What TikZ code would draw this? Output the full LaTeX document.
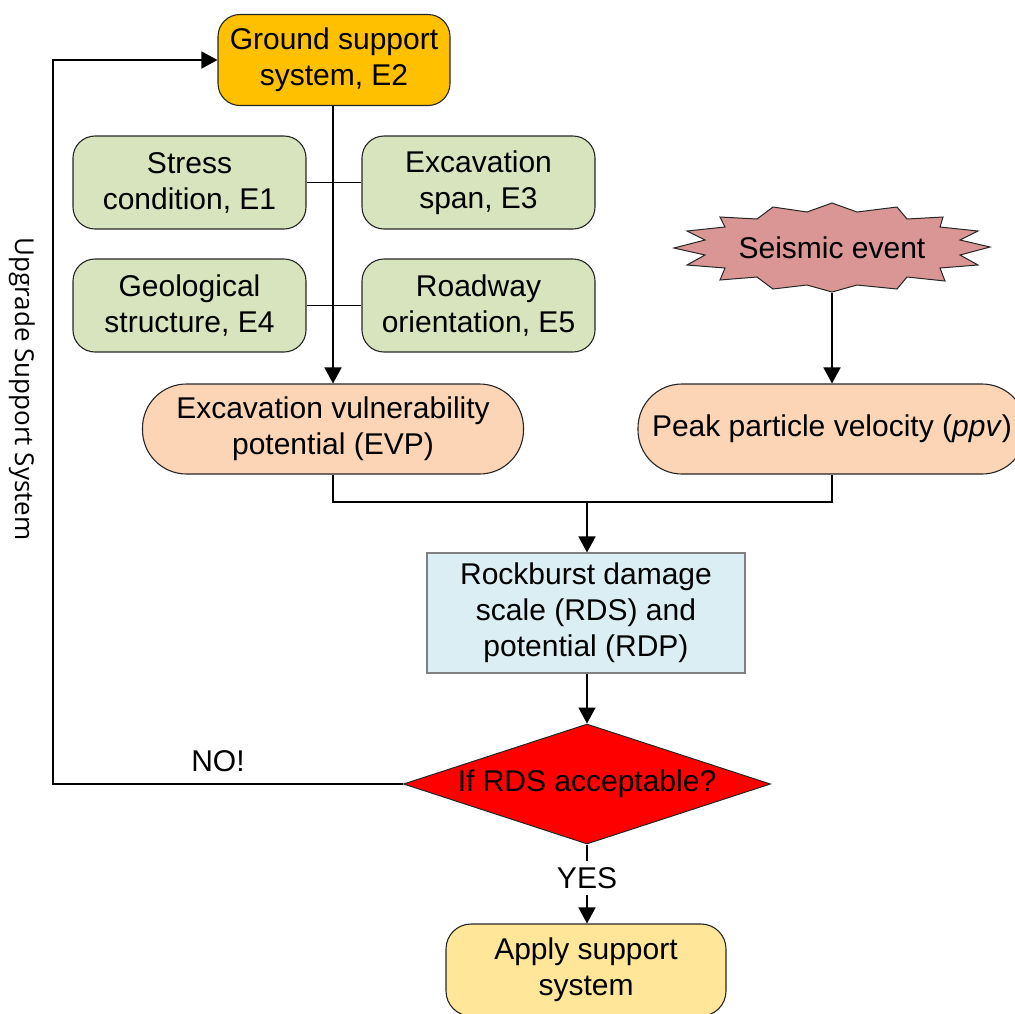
\documentclass[tikz,border=0pt]{standalone}
\usepackage{fontspec}
\setmainfont{Liberation Sans}
\newfontfamily\sidefont{Open Sans}
\usetikzlibrary{arrows.meta,shapes.geometric}
\definecolor{gsorange}{HTML}{FFC000}
\definecolor{egreen}{HTML}{D7E4BD}
\definecolor{peach}{HTML}{FBD5B5}
\definecolor{seisred}{HTML}{D99694}
\definecolor{rdsblue}{HTML}{DAEEF3}
\definecolor{applyy}{HTML}{FFE699}
\begin{document}
\begin{tikzpicture}[x=1pt,y=-1pt,
  every node/.style={font=\fontsize{30}{36}\selectfont, align=center},
  box/.style={draw=black!85, line width=1.1pt, rounded corners=22pt, inner sep=0pt},
  gbox/.style={box, fill=egreen, minimum width=233pt, minimum height=93pt},
  pill/.style={box, fill=peach, rounded corners=44pt, minimum height=90pt},
  conn/.style={line width=1.6pt, draw=black},
  arr/.style={conn, -{Triangle[length=16pt,width=17pt]}}]
\useasboundingbox (0,0) rectangle (1015,1013);
\clip (0,0) rectangle (1015,1013);
% nodes
\node[box, fill=gsorange, minimum width=232pt, minimum height=91pt] (gs) at (334,60) {Ground support\\system, E2};
\node[gbox] (e1) at (189.5,182.5) {Stress\\condition, E1};
\node[gbox] (e3) at (478.5,182.5) {Excavation\\span, E3};
\node[gbox] (e4) at (189.5,305.5) {Geological\\structure, E4};
\node[gbox] (e5) at (478.5,305.5) {Roadway\\orientation, E5};
\node[pill, minimum width=381pt] (evp) at (333,429) {Excavation vulnerability\\potential (EVP)};
\node[pill, minimum width=388pt] (ppv) at (832,429) {Peak particle velocity (\textit{ppv})};
% seismic starburst
\fill[seisred, draw=black!85, line width=1pt, shift={(832,247)}]
  (-158,1) -- (-127,-7) -- (-145,-16) -- (-107,-20) -- (-112,-30) -- (-75,-28)
  -- (-59,-40) -- (-25,-35) -- (0,-44) -- (25,-35) -- (65,-40) -- (75,-28)
  -- (111,-30) -- (108,-20) -- (146,-16) -- (128,-7) -- (158,0) -- (128,8)
  -- (146,18) -- (108,21) -- (113,34) -- (75,30) -- (65,42) -- (25,38)
  -- (0,45) -- (-25,38) -- (-59,42) -- (-75,30) -- (-112,33) -- (-107,21)
  -- (-145,18) -- (-127,8) -- cycle;
\node[inner sep=0pt, minimum width=316pt, minimum height=91pt] (seis) at (832,247.5) {Seismic event};
\node[draw=black!50, line width=1.1pt, fill=rdsblue, minimum width=318pt, minimum height=120pt, inner sep=0pt] (rds) at (586,613) {Rockburst damage\\scale (RDS) and\\potential (RDP)};
\node[diamond, aspect=3.06, draw=black!85, line width=1pt, fill=red, minimum width=367pt, minimum height=120pt, inner sep=0pt] (dia) at (587,784) {If RDS acceptable?};
\node[box, fill=applyy, rounded corners=25pt, minimum width=280pt, minimum height=92pt] (app) at (586,970) {Apply support\\system};
% labels
\node (no) at (218,761) {NO!};
\node[rotate=-90, font=\sidefont\fontsize{26}{30}\selectfont] (ups) at (22,389) {Upgrade Support System};
% connectors
\draw[conn] (e1.east) -- (e3.west);
\draw[conn] (e4.east) -- (e5.west);
\draw[arr] (gs.south -| evp.north) -- (evp.north);
\draw[arr] (seis.south) -- (ppv.north);
\coordinate (m) at (587,502);
\draw[conn] (evp.south) |- (m);
\draw[conn] (ppv.south) |- (m);
\draw[arr] (m) -- (rds.north -| m);
\draw[arr] (rds.south -| dia.north) -- (dia.north);
\coordinate (lc) at (53,784);
\draw[arr] (dia.west) -- (lc) |- (gs.west);
\draw[arr] (dia.south) -- node[pos=0.42, fill=white, inner sep=0pt, minimum height=34pt, minimum width=60pt] (yes) {YES} (app.north -| dia.south);
\end{tikzpicture}
\end{document}
